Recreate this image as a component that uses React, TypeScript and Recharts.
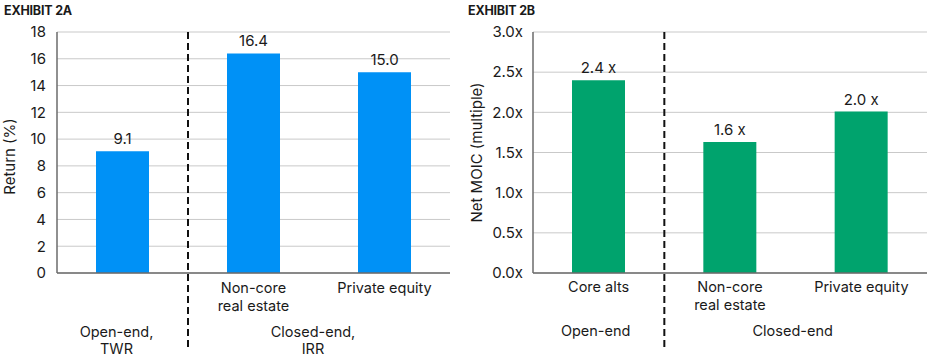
import React from 'react';
import { BarChart, Bar, XAxis, YAxis, CartesianGrid, ReferenceLine, LabelList } from 'recharts';

// ---------- Data ----------
const categoriesA = ['Open-end', 'Non-core real estate', 'Private equity'];
const tickLabelsA: string[][] = [[], ['Non-core', 'real estate'], ['Private equity']];
const returnsA = [9.1, 16.4, 15.0];
const groupsA = [
  { lines: ['Open-end,', 'TWR'], start: 0, span: 1 },
  { lines: ['Closed-end,', 'IRR'], start: 1, span: 2 },
];
const yTicksA = [0, 2, 4, 6, 8, 10, 12, 14, 16, 18];

const categoriesB = ['Core alts', 'Non-core real estate', 'Private equity'];
const tickLabelsB: string[][] = [['Core alts'], ['Non-core', 'real estate'], ['Private equity']];
const moicB = [2.4, 1.63, 2.01];
const groupsB = [
  { lines: ['Open-end'], start: 0, span: 1 },
  { lines: ['Closed-end'], start: 1, span: 2 },
];
const yTicksB = [0, 0.5, 1.0, 1.5, 2.0, 2.5, 3.0];

const dataA = categoriesA.map((name, i) => ({ name, value: returnsA[i] }));
const dataB = categoriesB.map((name, i) => ({ name, value: moicB[i] }));

// ---------- Styles ----------
const FONT = "Inter, 'Noto Sans', 'Liberation Sans', sans-serif";
const TEXT = '#1a1a1a';
const BLUE = '#0091F6';
const GREEN = '#00A36D';
const GRID = '#c9c9c9';
const AXIS = '#6b6b6b';
const TICK_FS = 14.5;

type Group = { lines: string[]; start: number; span: number };

const CategoryTick = (props: any) => {
  const { x, y, payload, labels, groups, categories, lineTop, lineGap, groupTop, groupDx } = props;
  const idx = typeof payload.index === 'number' ? payload.index : categories.indexOf(payload.value);
  const half = typeof payload.offset === 'number' && payload.offset > 0 ? payload.offset : 65.5;
  const lines: string[] = labels[idx] || [];
  const g: Group | undefined = groups.find((gr: Group) => gr.start === idx);
  const gx = g ? x + (g.span - 1) * half + groupDx : x;
  return (
    <g>
      {lines.map((l, k) => (
        <text key={'c' + k} x={x} y={y + lineTop + k * lineGap} textAnchor="middle" fill={TEXT} fontSize={TICK_FS} fontFamily={FONT}>
          {l}
        </text>
      ))}
      {g &&
        g.lines.map((l, k) => (
          <text key={'g' + k} x={gx} y={y + groupTop + k * lineGap} textAnchor="middle" fill={TEXT} fontSize={TICK_FS} fontFamily={FONT}>
            {l}
          </text>
        ))}
    </g>
  );
};

const makeDivider = (extend: number) => (p: any) => {
  const top = Math.min(p.y1, p.y2);
  const bottom = Math.max(p.y1, p.y2) + extend;
  return (
    <line x1={p.x1} x2={p.x2} y1={top} y2={bottom} stroke="#111" strokeWidth={2} strokeDasharray="7 4" />
  );
};

export default function App() {
  return (
    <div
      style={{
        position: 'absolute',
        left: 0,
        top: 0,
        width: 930,
        height: 358,
        background: '#fff',
        fontFamily: FONT,
        color: TEXT,
      }}
    >
      <div style={{ position: 'absolute', left: 4, top: 4, fontSize: 12.5, fontWeight: 700, lineHeight: '14px', letterSpacing: -0.2 }}>
        EXHIBIT 2A
      </div>
      <div style={{ position: 'absolute', left: 468, top: 4, fontSize: 12.5, fontWeight: 700, lineHeight: '14px', letterSpacing: -0.2 }}>
        EXHIBIT 2B
      </div>

      <div style={{ position: 'absolute', left: 0, top: 0 }}>
        <BarChart width={465} height={358} data={dataA} margin={{ top: 32, right: 15, left: 0, bottom: 0 }}>
          <CartesianGrid vertical={false} stroke={GRID} />
          <XAxis
            dataKey="name"
            height={85}
            tickLine={false}
            tickSize={0}
            tickMargin={0}
            axisLine={{ stroke: AXIS, strokeWidth: 1.5 }}
            interval={0}
            tick={(p: any) => (
              <CategoryTick
                {...p}
                labels={tickLabelsA}
                groups={groupsA}
                categories={categoriesA}
                lineTop={20}
                lineGap={17.6}
                groupTop={63.5}
                groupDx={-6}
              />
            )}
          />
          <YAxis
            width={57}
            domain={[0, 18]}
            ticks={yTicksA}
            interval={0}
            tickLine={false}
            tickSize={0}
            tickMargin={11}
            axisLine={{ stroke: AXIS, strokeWidth: 1.5 }}
            tick={{ fill: TEXT, fontSize: 15, fontFamily: FONT }}
            label={{
              value: 'Return (%)',
              angle: -90,
              position: 'insideLeft',
              offset: 10,
              dy: 4,
              style: { fill: TEXT, fontSize: 15, fontFamily: FONT, textAnchor: 'middle' },
            }}
          />
          <ReferenceLine x={categoriesA[0]} position="end" shape={makeDivider(75)} />
          <Bar dataKey="value" fill={BLUE} barSize={53} isAnimationActive={false}>
            <LabelList
              dataKey="value"
              position="top"
              offset={7}
              formatter={(v: any) => Number(v).toFixed(1)}
              style={{ fill: TEXT, fontSize: 15, fontFamily: FONT }}
            />
          </Bar>
        </BarChart>
      </div>

      <div style={{ position: 'absolute', left: 465, top: 0 }}>
        <BarChart width={465} height={358} data={dataB} margin={{ top: 32, right: 3, left: 0, bottom: 0 }}>
          <CartesianGrid vertical={false} stroke={GRID} />
          <XAxis
            dataKey="name"
            height={85}
            tickLine={false}
            tickSize={0}
            tickMargin={0}
            axisLine={{ stroke: AXIS, strokeWidth: 1.5 }}
            interval={0}
            tick={(p: any) => (
              <CategoryTick
                {...p}
                labels={tickLabelsB}
                groups={groupsB}
                categories={categoriesB}
                lineTop={19}
                lineGap={17.6}
                groupTop={63}
                groupDx={-3}
              />
            )}
          />
          <YAxis
            width={68}
            domain={[0, 3]}
            ticks={yTicksB}
            interval={0}
            tickLine={false}
            tickSize={0}
            tickMargin={10}
            axisLine={{ stroke: AXIS, strokeWidth: 1.5 }}
            tick={{ fill: TEXT, fontSize: 15, fontFamily: FONT }}
            tickFormatter={(v: number) => `${v.toFixed(1)}x`}
            label={{
              value: 'Net MOIC (multiple)',
              angle: -90,
              position: 'insideLeft',
              offset: 12,
              dy: 0,
              style: { fill: TEXT, fontSize: 15, fontFamily: FONT, textAnchor: 'middle' },
            }}
          />
          <ReferenceLine x={categoriesB[0]} position="end" shape={makeDivider(75)} />
          <Bar dataKey="value" fill={GREEN} barSize={53} isAnimationActive={false}>
            <LabelList
              dataKey="value"
              position="top"
              offset={7}
              formatter={(v: any) => `${Number(v).toFixed(1)} x`}
              style={{ fill: TEXT, fontSize: 15, fontFamily: FONT }}
            />
          </Bar>
        </BarChart>
      </div>
    </div>
  );
}
